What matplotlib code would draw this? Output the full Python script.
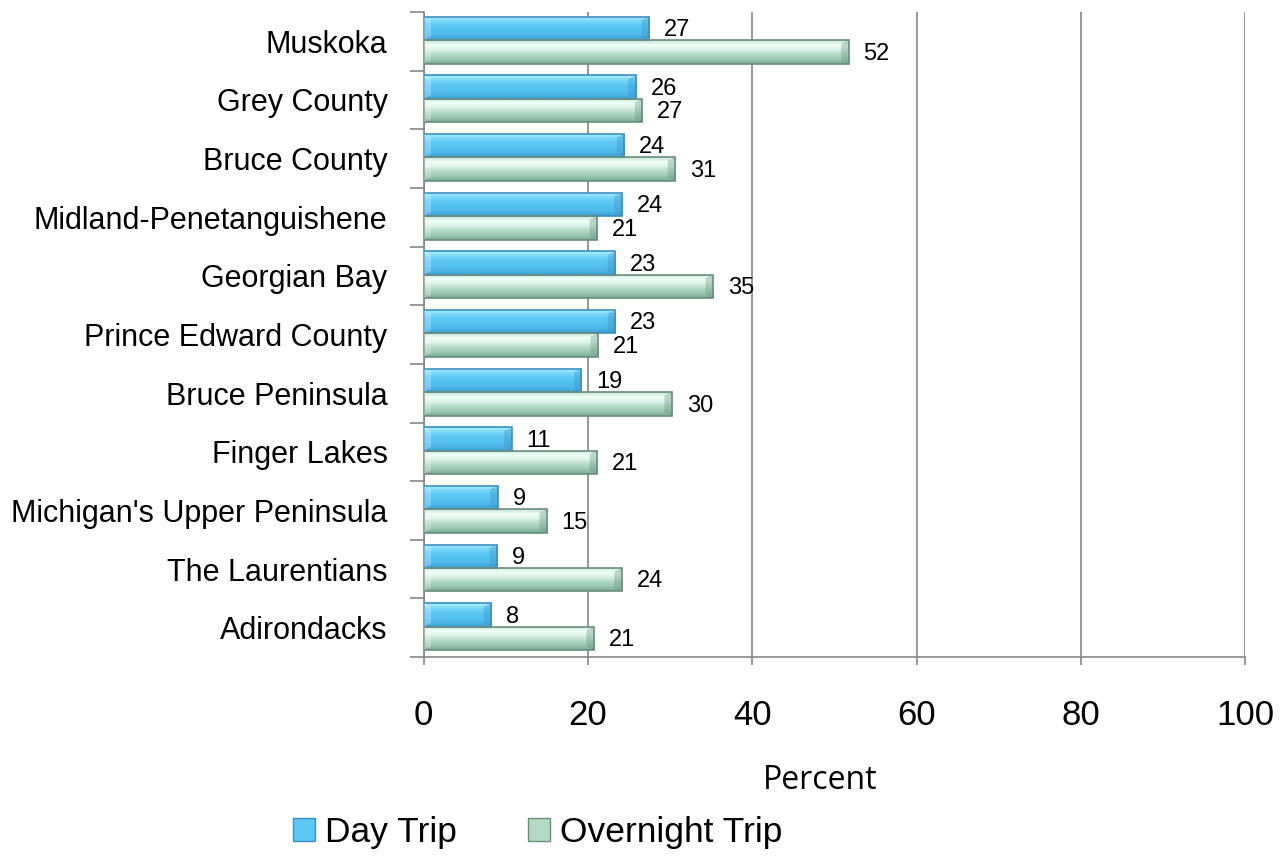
import numpy as np
import matplotlib.pyplot as plt
from matplotlib.patches import Rectangle, Patch
from matplotlib.ticker import FixedLocator

plt.rcParams['font.family'] = ['Liberation Sans', 'DejaVu Sans']

places = ["Muskoka", "Grey County", "Bruce County", "Midland-Penetanguishene",
          "Georgian Bay", "Prince Edward County", "Bruce Peninsula", "Finger Lakes",
          "Michigan's Upper Peninsula", "The Laurentians", "Adirondacks"]
day_trip = [27.4, 25.8, 24.4, 24.1, 23.3, 23.3, 19.2, 10.7, 9.0, 8.9, 8.2]
overnight = [51.7, 26.6, 30.6, 21.1, 35.2, 21.2, 30.2, 21.1, 15.0, 24.1, 20.7]
series = ["Day Trip", "Overnight Trip"]

# vertical gradients (top -> bottom) to fake the bevelled bars
blue_grad = ["#b8f0ff", "#7ad8fa", "#5cc8f3", "#55c2f0", "#4fb9e9", "#3a9fd4"]
green_grad = ["#c4e4d4", "#f0fff8", "#dcf2e6", "#b4dac6", "#9cc9b3", "#7aa893"]


def to_rgb(h):
    return [int(h[i:i + 2], 16) / 255 for i in (1, 3, 5)]


def grad_img(cols):
    c = np.array([to_rgb(x) for x in cols])
    t = np.linspace(0, 1, 40)
    xp = np.linspace(0, 1, len(cols))
    img = np.stack([np.interp(t, xp, c[:, k]) for k in range(3)], axis=-1)
    return img[:, None, :]


fig = plt.figure(figsize=(12.8, 8.59), dpi=100)
ax = fig.add_axes([0.331, 0.235, 0.642, 0.751])

h = 0.4
y = np.arange(len(places))
offs = [-0.22, 0.18]
grads = [blue_grad, green_grad]
edges = ["#3b8fc0", "#6a8f7d"]

for vals, off, g, ec in zip([day_trip, overnight], offs, grads, edges):
    img = grad_img(g)
    for yi, v in zip(y, vals):
        yc = yi + off
        rect = Rectangle((0, yc - h / 2), v, h, facecolor="none", edgecolor=ec, lw=1.2, zorder=4)
        ax.add_patch(rect)
        im = ax.imshow(img, extent=(0, v, yc + h / 2, yc - h / 2), aspect="auto",
                       origin="upper", zorder=3, interpolation="bilinear")
        im.set_clip_path(rect)
        # bevels at both ends
        d = 0.9
        ax.fill([v - d, v, v, v - d], [yc - h / 2 + 0.06, yc - h / 2, yc + h / 2, yc + h / 2 - 0.06],
                color=ec, alpha=0.35, lw=0, zorder=4)
        ax.fill([0, d, d, 0], [yc - h / 2, yc - h / 2 + 0.06, yc + h / 2 - 0.06, yc + h / 2],
                color="white", alpha=0.25, lw=0, zorder=4)
        ax.text(v + 1.8, yc + 0.03, f"{v:.0f}", va="center", ha="left", fontsize=17, zorder=5)

ax.set_xlim(0, 100)
ax.set_ylim(10.5, -0.5)
ax.set_xticks([0, 20, 40, 60, 80, 100])
ax.set_yticks(y)
ax.set_yticklabels(places, fontsize=22)
ax.yaxis.set_minor_locator(FixedLocator(np.arange(-0.5, 11, 1)))
ax.tick_params(axis="y", which="major", length=0, pad=26)
ax.tick_params(axis="y", which="minor", length=10, color="#868686", width=1.2)
ax.tick_params(axis="x", labelsize=25, length=6, pad=24, color="#868686", width=1.2)
ax.grid(axis="x", color="#868686", lw=1.2, zorder=0)
ax.set_axisbelow(True)
for s in ["top", "right"]:
    ax.spines[s].set_visible(False)
for s in ["left", "bottom"]:
    ax.spines[s].set_color("#868686")
    ax.spines[s].set_linewidth(1.2)
ax.spines["bottom"].set_bounds(0, 100)

fig.text(0.641, 0.091, "Percent", family=["Open Sans", "DejaVu Sans"], fontsize=23,
         ha="center", va="center")

handles = [Patch(facecolor="#5cc8f3", edgecolor="#3b8fc0"),
           Patch(facecolor="#b4dac6", edgecolor="#6a8f7d")]
fig.legend(handles, series, loc="center", bbox_to_anchor=(0.42, 0.031), ncol=2,
           frameon=False, fontsize=25.5, handlelength=0.63, handleheight=0.63,
           handletextpad=0.28, columnspacing=2.0, borderpad=0)

fig.savefig("out.png", dpi=100)
